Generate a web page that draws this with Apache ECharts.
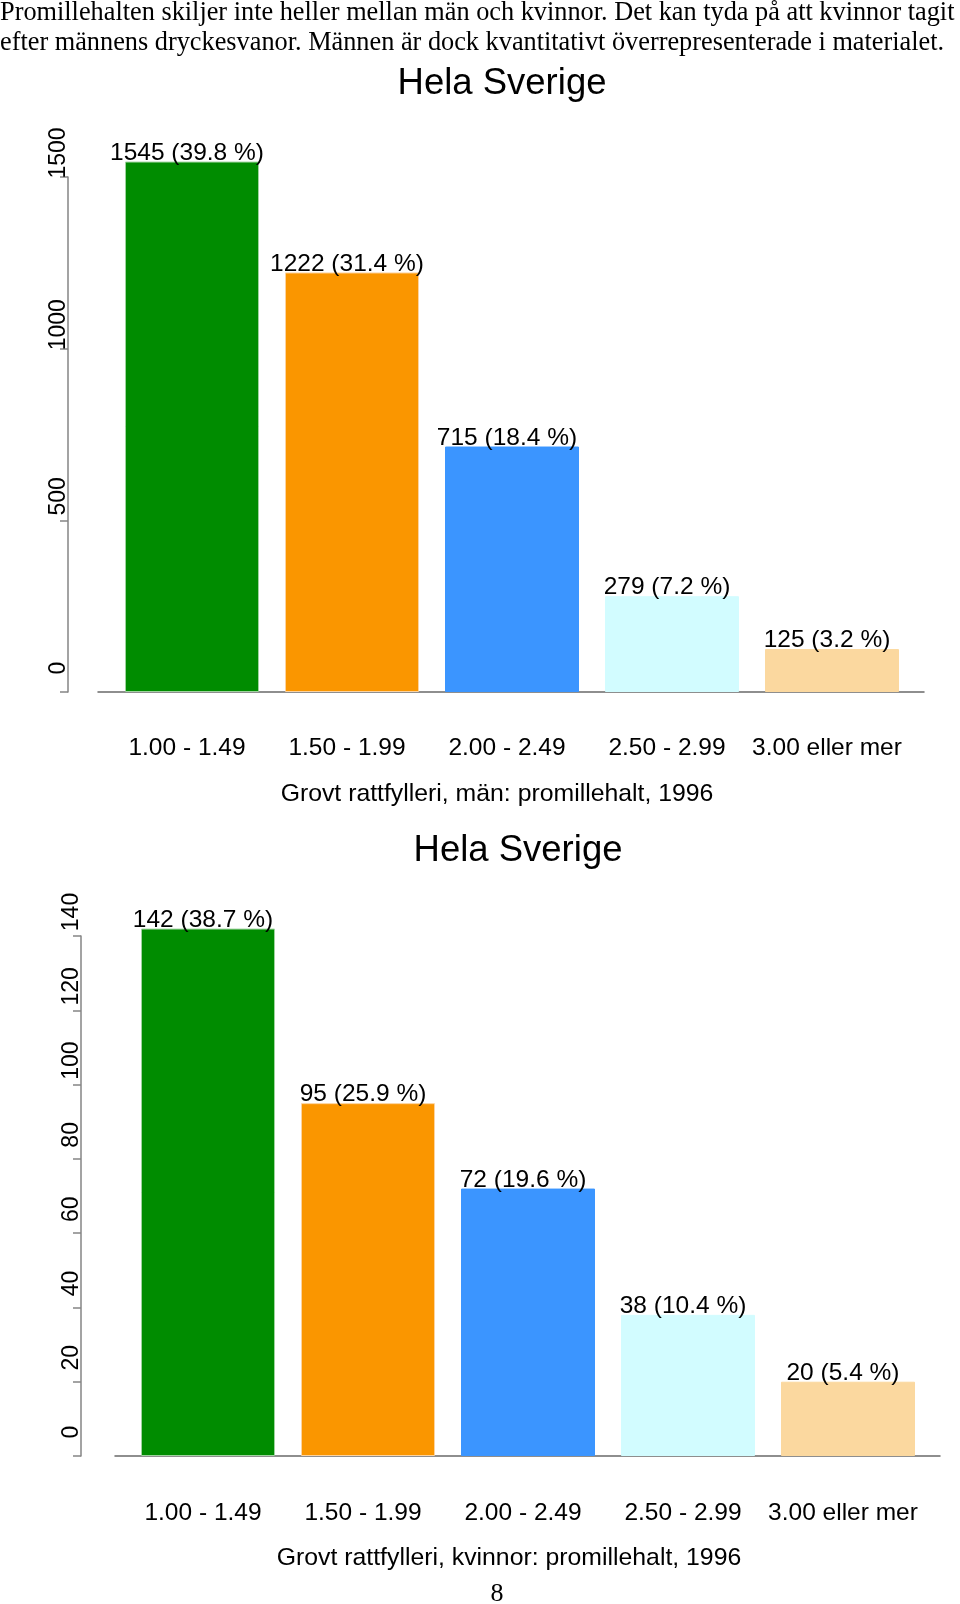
<!DOCTYPE html>
<html>
<head>
<meta charset="utf-8">
<script src="https://cdn.jsdelivr.net/npm/echarts@6/dist/echarts.min.js"></script>
<style>
  html, body { margin: 0; padding: 0; background: #fff; }
  #main { width: 960px; height: 1604px; }
</style>
</head>
<body>
<div id="main"></div>
<script>
// data
var categories = ['1.00 - 1.49', '1.50 - 1.99', '2.00 - 2.49', '2.50 - 2.99', '3.00 eller mer']
var menValues = [1545, 1222, 715, 279, 125]
var menPercent = [39.8, 31.4, 18.4, 7.2, 3.2]
var womenValues = [142, 95, 72, 38, 20]
var womenPercent = [38.7, 25.9, 19.6, 10.4, 5.4]
var menTicks = [0, 500, 1000, 1500]
var womenTicks = [0, 20, 40, 60, 80, 100, 120, 140]
var introLines = [
  'Promillehalten skiljer inte heller mellan män och kvinnor. Det kan tyda på att kvinnor tagit',
  'efter männens dryckesvanor. Männen är dock kvantitativt överrepresenterade i materialet.'
]
var chartTitle = 'Hela Sverige'
var menAxisName = 'Grovt rattfylleri, män: promillehalt, 1996'
var womenAxisName = 'Grovt rattfylleri, kvinnor: promillehalt, 1996'
var pageNumber = '8'

var barColors = ['#008c00', '#fa9600', '#3b95ff', '#d2fcff', '#fbd89f']
var barBorders = ['#9fd39f', '#fcd3a0', '#3b95ff', '#d2fcff', '#fbd89f']
var sans = 'Liberation Sans'
var serif = 'Liberation Serif'

var myChart = echarts.init(document.getElementById('main'))

function valueAxis (gridIndex, ticks, offset) {
  return {
    type: 'value',
    gridIndex: gridIndex,
    min: ticks[0],
    max: ticks[ticks.length - 1],
    interval: ticks[1] - ticks[0],
    offset: offset,
    splitLine: { show: false },
    axisLine: { show: true, lineStyle: { color: '#858585', width: 1.5 } },
    axisTick: { show: true, length: 8, lineStyle: { color: '#858585', width: 1.5 } },
    axisLabel: {
      rotate: 90,
      margin: -2,
      padding: [0, 0, 0, 48],
      showMinLabel: true,
      showMaxLabel: true,
      color: '#000',
      fontFamily: sans,
      fontSize: 23,
      formatter: function (v) { return String(v) }
    }
  }
}

function categoryAxis (gridIndex, name, namePad, margin) {
  return {
    type: 'category',
    gridIndex: gridIndex,
    data: categories,
    axisLine: { show: false },
    axisTick: { show: false },
    axisLabel: {
      interval: 0,
      margin: margin,
      padding: [0, 10, 0, 0],
      color: '#000',
      fontFamily: sans,
      fontSize: 24.5
    },
    name: name,
    nameLocation: 'middle',
    nameGap: 89.5,
    nameTextStyle: {
      color: '#000',
      fontFamily: sans,
      fontSize: 24.8,
      padding: [0, namePad, 0, 0]
    }
  }
}

// only draws the long baseline under the bars
function baseAxis (gridIndex) {
  return {
    type: 'value',
    gridIndex: gridIndex,
    min: 0,
    max: 1,
    axisLine: { show: true, onZero: false, lineStyle: { color: '#6a6a6a', width: 1.5 } },
    axisTick: { show: false },
    axisLabel: { show: false },
    splitLine: { show: false }
  }
}

function hiddenAxis (gridIndex) {
  return { type: 'value', gridIndex: gridIndex, show: false, min: 0, max: 1 }
}

function barSeries (axisIndex, values, percent) {
  return {
    type: 'bar',
    xAxisIndex: axisIndex,
    yAxisIndex: axisIndex,
    barWidth: 134,
    clip: false,
    silent: true,
    data: values.map(function (v, i) {
      return { value: v, itemStyle: { color: barColors[i], borderColor: barBorders[i], borderWidth: 1 } }
    }),
    label: {
      show: true,
      position: 'top',
      distance: -4,
      offset: [-5, 0],
      color: '#000',
      fontFamily: sans,
      fontSize: 24.5,
      formatter: function (params) {
        return params.value + ' (' + percent[params.dataIndex].toFixed(1) + ' %)'
      }
    }
  }
}

function titleAt (text, x, y, font, size) {
  return {
    text: text,
    left: x,
    top: y,
    padding: 0,
    textAlign: 'center',
    textVerticalAlign: 'middle',
    textStyle: { color: '#000', fontFamily: font, fontSize: size, fontWeight: 'normal' }
  }
}

var option = {
  backgroundColor: '#fff',
  animation: false,
  title: [
    {
      text: introLines.join('\n'),
      left: 0,
      top: -2,
      padding: 0,
      textStyle: { color: '#000', fontFamily: serif, fontSize: 26.3, lineHeight: 30, fontWeight: 'normal' }
    },
    titleAt(chartTitle, 502, 84, sans, 36.5),
    titleAt(chartTitle, 518, 851, sans, 36.5),
    titleAt(pageNumber, 497, 1594, serif, 26)
  ],
  grid: [
    { left: 112, right: 48, top: 177, bottom: 912 },
    { left: 98, right: 36, top: 177, bottom: 912 },
    { left: 128, right: 32, top: 936, bottom: 148 },
    { left: 115, right: 20, top: 936, bottom: 148 }
  ],
  xAxis: [
    categoryAxis(0, menAxisName, 30, 44),
    baseAxis(1),
    categoryAxis(2, womenAxisName, 38, 45),
    baseAxis(3)
  ],
  yAxis: [
    valueAxis(0, menTicks, 44),
    hiddenAxis(1),
    valueAxis(2, womenTicks, 47),
    hiddenAxis(3)
  ],
  series: [
    barSeries(0, menValues, menPercent),
    barSeries(2, womenValues, womenPercent)
  ]
}

myChart.setOption(option, true)
</script>
</body>
</html>
